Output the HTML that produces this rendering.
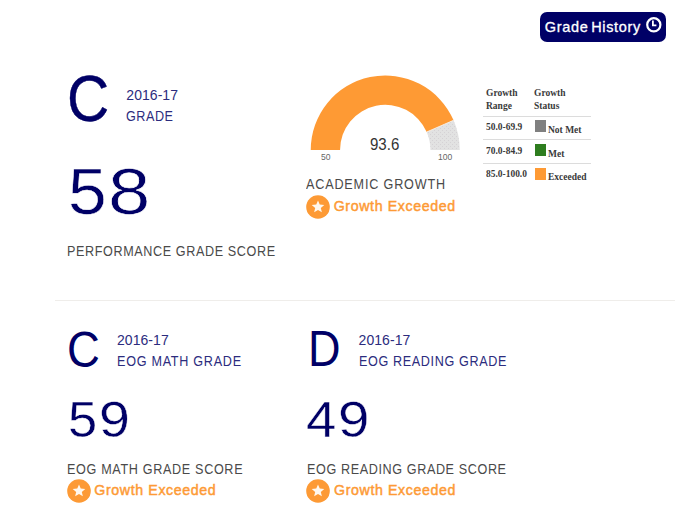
<!DOCTYPE html>
<html>
<head>
<meta charset="utf-8">
<style>
html,body{margin:0;padding:0;background:#fff;}
body{width:675px;height:515px;position:relative;overflow:hidden;font-family:"Liberation Sans",sans-serif;}
.a{position:absolute;white-space:nowrap;line-height:1;transform-origin:0 0;}
.navy{color:#000066;}
.sub{color:#2c2c7e;font-size:14px;}
.lbl{color:#4a4a4a;font-size:14px;}
.ge{color:#fd9a35;font-size:14.2px;font-weight:normal;letter-spacing:0.62px;-webkit-text-stroke:0.45px #fd9a35;}
.star{position:absolute;}
.btn{position:absolute;left:540px;top:12px;width:126px;height:30px;background:#000066;border-radius:7px;}
.tbl{font-family:"Liberation Serif",serif;font-weight:bold;font-size:9.5px;color:#3a3a3a;}
.hr{position:absolute;left:483px;width:108px;height:1px;background:#dcdcdc;}
.dg{font-size:10.5px;transform:scaleX(0.9);}
.sq{position:absolute;left:535px;width:11px;height:12px;}
</style>
</head>
<body>
<!-- Grade History button -->
<div class="btn"></div>
<div class="a" id="gh" style="left:544.8px;top:19.8px;font-size:14.5px;color:#fff;letter-spacing:0.65px;word-spacing:-1.8px;-webkit-text-stroke:0.3px #fff;">Grade History</div>
<svg class="a" style="left:644px;top:16px;" width="19" height="19" viewBox="0 0 19 19">
  <circle cx="9.8" cy="8.8" r="6.6" fill="none" stroke="#fff" stroke-width="2.2"/>
  <path d="M8.9 4.6 V9.3 H12.4" fill="none" stroke="#fff" stroke-width="1.8"/>
</svg>

<!-- Top left -->
<div class="a navy" id="bigC" style="left:67.2px;top:67.3px;font-size:64.5px;transform:scaleX(0.905);-webkit-text-stroke:0.4px #000066;">C</div>
<div class="a sub" id="y1" style="left:126.3px;top:87.6px;letter-spacing:0.05px;">2016-17</div>
<div class="a sub" id="g1" style="left:126px;top:109.3px;letter-spacing:0.6px;transform:scaleX(0.9);">GRADE</div>
<div class="a navy" id="n58a" style="left:68px;top:159.6px;font-size:64.5px;transform:scaleX(1.08);-webkit-text-stroke:0.5px #fff;">5</div><div class="a navy" id="n58b" style="left:107.5px;top:159.6px;font-size:64.5px;transform:scaleX(1.18);-webkit-text-stroke:0.6px #fff;">8</div>
<div class="a lbl" id="pgs" style="left:67px;top:244.4px;letter-spacing:0.68px;transform:scaleX(0.9);">PERFORMANCE GRADE SCORE</div>

<!-- Gauge -->
<svg class="a" style="left:0;top:0;" width="675" height="300">
  <defs>
    <pattern id="dots" width="4" height="4" patternUnits="userSpaceOnUse">
      <rect width="4" height="4" fill="#e2e2e2"/>
      <rect x="0" y="0" width="1" height="1" fill="#d5d2d5"/>
      <rect x="2" y="2" width="1" height="1" fill="#d5d2d5"/>
    </pattern>
  </defs>
  <path id="gray" d="M453.57 120.29 A74.5 74.5 0 0 1 459.75 150 L430.45 150 A45.2 45.2 0 0 0 426.70 131.98 Z" fill="url(#dots)"/>
  <path id="orange" d="M310.75 150 A74.5 74.5 0 0 1 453.57 120.29 L426.70 131.98 A45.2 45.2 0 0 0 340.05 150 Z" fill="#fe9a34"/>
  <line id="sep" x1="453.57" y1="120.29" x2="426.70" y2="131.98" stroke="#f6f2ee" stroke-width="0.8"/>
</svg>
<div class="a" id="v936" style="left:370.3px;top:135.9px;font-size:16.2px;color:#333;transform:scaleX(0.93);">93.6</div>
<div class="a" id="l50" style="left:320.8px;top:152.2px;font-size:9.5px;color:#666;transform:scaleX(0.9);">50</div>
<div class="a" id="l100" style="left:438.2px;top:152.2px;font-size:9.5px;color:#666;transform:scaleX(0.9);">100</div>
<div class="a lbl" id="acg" style="left:306.4px;top:177.4px;letter-spacing:0.93px;transform:scaleX(0.9);">ACADEMIC GROWTH</div>
<svg class="star" style="left:306px;top:195px;" width="24" height="24" viewBox="0 0 24 24">
  <circle cx="12" cy="12" r="11.8" fill="#fd9a35"/>
  <path d="M12.00 5.40 L13.73 9.61 L18.28 9.96 L14.81 12.91 L15.88 17.34 L12.00 14.95 L8.12 17.34 L9.19 12.91 L5.72 9.96 L10.27 9.61 Z" fill="#fff8ee"/>
</svg>
<div class="a ge" id="ge1" style="left:333.7px;top:199.3px;">Growth Exceeded</div>

<!-- Table -->
<div class="a tbl" style="left:486px;top:87.2px;line-height:12.7px;">Growth<br>Range</div>
<div class="a tbl" style="left:534px;top:87.2px;line-height:12.7px;">Growth<br>Status</div>
<div class="hr" style="top:116px;"></div>
<div class="a tbl dg" style="left:486px;top:121.6px;">50.0-69.9</div>
<div class="sq" style="top:120px;background:#808080;"></div>
<div class="a tbl" style="left:548px;top:125.8px;">Not Met</div>
<div class="hr" style="top:139px;"></div>
<div class="a tbl dg" style="left:486px;top:145.6px;">70.0-84.9</div>
<div class="sq" style="top:144px;background:#2e7d1f;"></div>
<div class="a tbl" style="left:548px;top:149.8px;">Met</div>
<div class="hr" style="top:163px;"></div>
<div class="a tbl dg" style="left:486px;top:168.6px;">85.0-100.0</div>
<div class="sq" style="top:167.5px;background:#fe9a34;"></div>
<div class="a tbl" style="left:548px;top:172.8px;">Exceeded</div>

<!-- Divider -->
<div style="position:absolute;left:55px;top:300px;width:620px;height:1px;background:#efedea;"></div>

<!-- Bottom left -->
<div class="a navy" id="c2" style="left:67px;top:325px;font-size:50px;transform:scaleX(0.91);">C</div>
<div class="a sub" id="y2" style="left:117px;top:332.6px;letter-spacing:0.05px;">2016-17</div>
<div class="a sub" id="g2" style="left:116.8px;top:354.3px;letter-spacing:0.81px;transform:scaleX(0.9);">EOG MATH GRADE</div>
<div class="a navy" id="n59a" style="left:68px;top:395px;font-size:50px;transform:scaleX(1.05);-webkit-text-stroke:0.4px #fff;">5</div><div class="a navy" id="n59b" style="left:99px;top:395px;font-size:50px;transform:scaleX(1.11);-webkit-text-stroke:0.4px #fff;">9</div>
<div class="a lbl" id="s2" style="left:67px;top:462px;letter-spacing:0.74px;transform:scaleX(0.9);">EOG MATH GRADE SCORE</div>
<svg class="star" style="left:67px;top:479px;" width="24" height="24" viewBox="0 0 24 24">
  <circle cx="12" cy="12" r="11.8" fill="#fd9a35"/>
  <path d="M12.00 5.40 L13.73 9.61 L18.28 9.96 L14.81 12.91 L15.88 17.34 L12.00 14.95 L8.12 17.34 L9.19 12.91 L5.72 9.96 L10.27 9.61 Z" fill="#fff8ee"/>
</svg>
<div class="a ge" id="ge2" style="left:94.3px;top:483.2px;">Growth Exceeded</div>

<!-- Bottom right -->
<div class="a navy" id="d3" style="left:308px;top:324px;font-size:50px;transform:scaleX(0.9);">D</div>
<div class="a sub" id="y3" style="left:358.6px;top:332.6px;letter-spacing:0.05px;">2016-17</div>
<div class="a sub" id="g3" style="left:358.8px;top:354.3px;letter-spacing:0.7px;transform:scaleX(0.9);">EOG READING GRADE</div>
<div class="a navy" id="n49a" style="left:306px;top:395.4px;font-size:50px;transform:scaleX(1.09);-webkit-text-stroke:0.4px #fff;">4</div><div class="a navy" id="n49b" style="left:338px;top:395.4px;font-size:50px;transform:scaleX(1.13);-webkit-text-stroke:0.4px #fff;">9</div>
<div class="a lbl" id="s3" style="left:306.5px;top:462.2px;letter-spacing:0.68px;transform:scaleX(0.9);">EOG READING GRADE SCORE</div>
<svg class="star" style="left:306px;top:479px;" width="24" height="24" viewBox="0 0 24 24">
  <circle cx="12" cy="12" r="11.8" fill="#fd9a35"/>
  <path d="M12.00 5.40 L13.73 9.61 L18.28 9.96 L14.81 12.91 L15.88 17.34 L12.00 14.95 L8.12 17.34 L9.19 12.91 L5.72 9.96 L10.27 9.61 Z" fill="#fff8ee"/>
</svg>
<div class="a ge" id="ge3" style="left:334px;top:483.2px;">Growth Exceeded</div>
</body>
</html>
